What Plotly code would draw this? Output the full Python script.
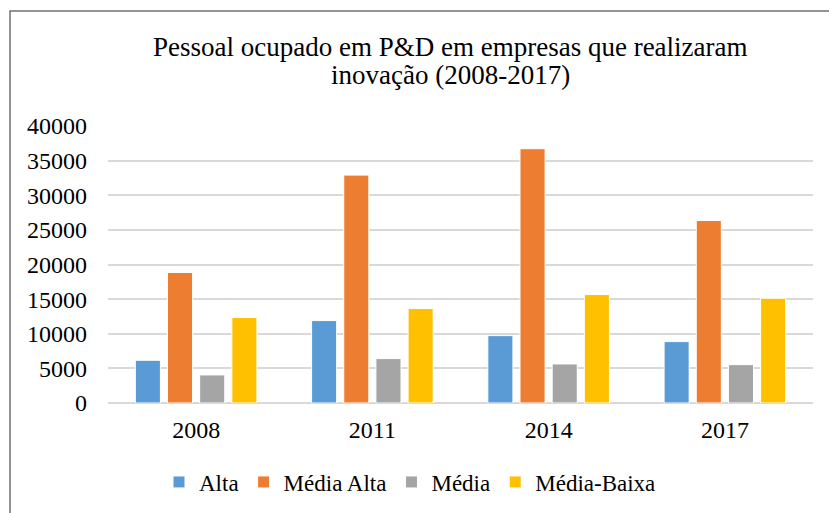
import plotly.graph_objects as go

anos = ["2008", "2011", "2014", "2017"]
alta = [6170, 11900, 9730, 8870]
media_alta = [18840, 32910, 36720, 26360]
media = [4050, 6410, 5640, 5540]
media_baixa = [12340, 13640, 15660, 15130]

titulo_l1 = "Pessoal ocupado em P&D em empresas que realizaram"
titulo_l2 = "inovação (2008-2017)"

series = [
    ("Alta", alta, "#5B9BD5"),
    ("Média Alta", media_alta, "#ED7D31"),
    ("Média", media, "#A5A5A5"),
    ("Média-Baixa", media_baixa, "#FFC000"),
]

fig = go.Figure()
for name, vals, color in series:
    fig.add_trace(go.Bar(
        x=anos, y=vals, name=name,
        marker=dict(color=color, line=dict(color="white", width=1)),
    ))

FONT = "Liberation Serif, Times New Roman, serif"
PW, PH, L, T = 705, 277, 108, 126

def px(x):
    return (x - L) / PW

def py(y):
    return (T + PH - y) / PH

fig.update_layout(
    width=829, height=513,
    paper_bgcolor="white", plot_bgcolor="white",
    margin=dict(l=L, r=829 - L - PW, t=T, b=513 - T - PH, autoexpand=False),
    font=dict(family=FONT, size=24, color="#000000"),
    barmode="group", bargap=0.27, bargroupgap=0.22,
    showlegend=True,
    legend=dict(
        orientation="h", x=px(410), xanchor="center", y=py(482), yanchor="middle",
        font=dict(family=FONT, size=23), itemwidth=30, traceorder="normal",
    ),
    xaxis=dict(
        showgrid=False, showline=False, ticks="", automargin=False,
        ticklabelstandoff=10,
        tickfont=dict(family=FONT, size=24),
    ),
    yaxis=dict(
        range=[0, 40000], dtick=5000, tickformat="d", automargin=False,
        showgrid=True, gridcolor="#D9D9D9", gridwidth=1.5,
        zeroline=True, zerolinecolor="#D9D9D9", zerolinewidth=1.5,
        showline=False, ticks="", ticklabelstandoff=20,
        tickfont=dict(family=FONT, size=24),
    ),
    annotations=[
        dict(text=titulo_l1, xref="paper", yref="paper", x=px(450), y=py(47),
             xanchor="center", yanchor="middle", showarrow=False,
             font=dict(family=FONT, size=27, color="#000000")),
        dict(text=titulo_l2, xref="paper", yref="paper", x=px(450), y=py(75),
             xanchor="center", yanchor="middle", showarrow=False,
             font=dict(family=FONT, size=27, color="#000000")),
    ],
    shapes=[dict(
        type="rect", xref="paper", yref="paper",
        x0=px(10), x1=px(840), y0=py(525), y1=py(11),
        line=dict(color="#707070", width=1.5), fillcolor="rgba(0,0,0,0)",
        layer="below",
    )],
)

fig.write_html("out.html", config={"displayModeBar": False},
               post_script="document.body.style.margin='0';")
